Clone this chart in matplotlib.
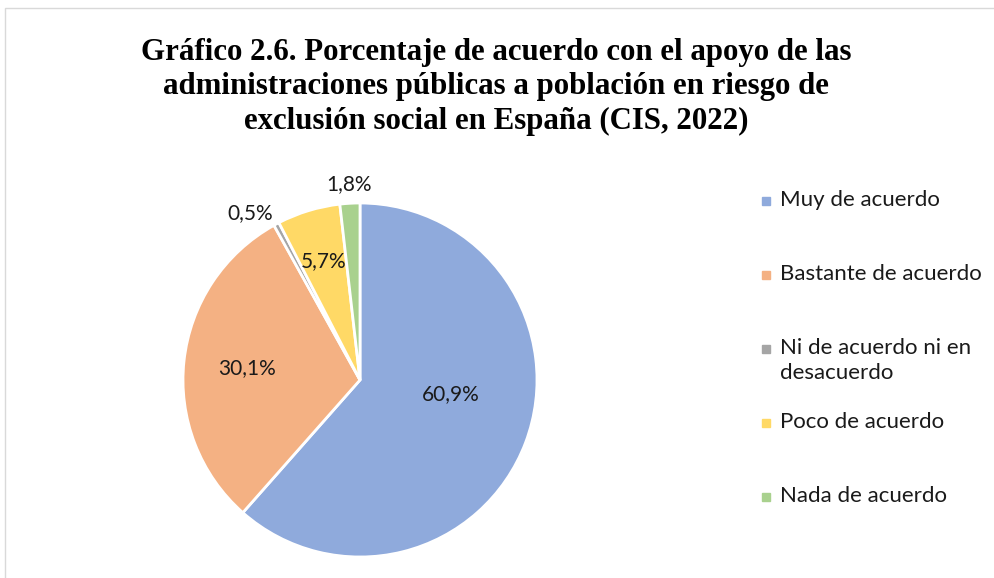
import matplotlib.pyplot as plt
from matplotlib.patches import Rectangle
import numpy as np

categorias = ['Muy de acuerdo', 'Bastante de acuerdo', 'Ni de acuerdo ni en\ndesacuerdo',
              'Poco de acuerdo', 'Nada de acuerdo']
porcentajes = [60.9, 30.1, 0.5, 5.7, 1.8]
etiquetas = ['60,9%', '30,1%', '0,5%', '5,7%', '1,8%']
colores = ['#8FAADC', '#F4B183', '#A5A5A5', '#FFD966', '#A9D18E']

titulo = ('Gráfico 2.6. Porcentaje de acuerdo con el apoyo de las\n'
          'administraciones públicas a población en riesgo de\n'
          'exclusión social en España (CIS, 2022)')

W, H = 995, 578
fig = plt.figure(figsize=(W / 100, H / 100), dpi=100)

# frame around chart area
fig.patches.append(Rectangle((5 / W, -0.1), 1.1, (H - 8) / H + 0.1, transform=fig.transFigure,
                             fill=False, edgecolor='#D9D9D9', linewidth=1))

fig.text(0.4985, 1 - 87 / H, titulo, ha='center', va='center', fontsize=22.2,
         fontweight='bold', family='Liberation Serif', linespacing=1.27)

cx, cy, R = 360, 380, 177
ax = fig.add_axes([(cx - R) / W, (H - cy - R) / H, 2 * R / W, 2 * R / H])
wedges, _ = ax.pie(porcentajes, colors=colores, startangle=90, counterclock=False,
                   wedgeprops=dict(edgecolor='white', linewidth=2))
ax.set_xlim(-1, 1)
ax.set_ylim(-1, 1)
ax.set_aspect('equal')
ax.axis('off')

# label distance from centre and angular shift per wedge
dist = [0.52, 0.64, 1.13, 0.70, 1.11]
shift = [12, 0, 5, 0, 0]
for w, lab, d, s in zip(wedges, etiquetas, dist, shift):
    ang = np.deg2rad((w.theta1 + w.theta2) / 2 + s)
    ax.text(d * np.cos(ang), d * np.sin(ang), lab, ha='center', va='center',
            fontsize=15, family='Lato', color='#1a1a1a', clip_on=False)

# legend
y0, step = 201, 74
for i, (cat, col) in enumerate(zip(categorias, colores)):
    y = y0 + i * step
    fig.patches.append(Rectangle((762 / W, 1 - (y + 4) / H), 8 / W, 8 / H,
                                 transform=fig.transFigure, color=col))
    fig.text(780 / W, 1 - (y - 11) / H, cat, ha='left', va='top', fontsize=16,
             family='Lato', color='#1a1a1a', linespacing=1.3)

fig.savefig('out.png', dpi=100)
